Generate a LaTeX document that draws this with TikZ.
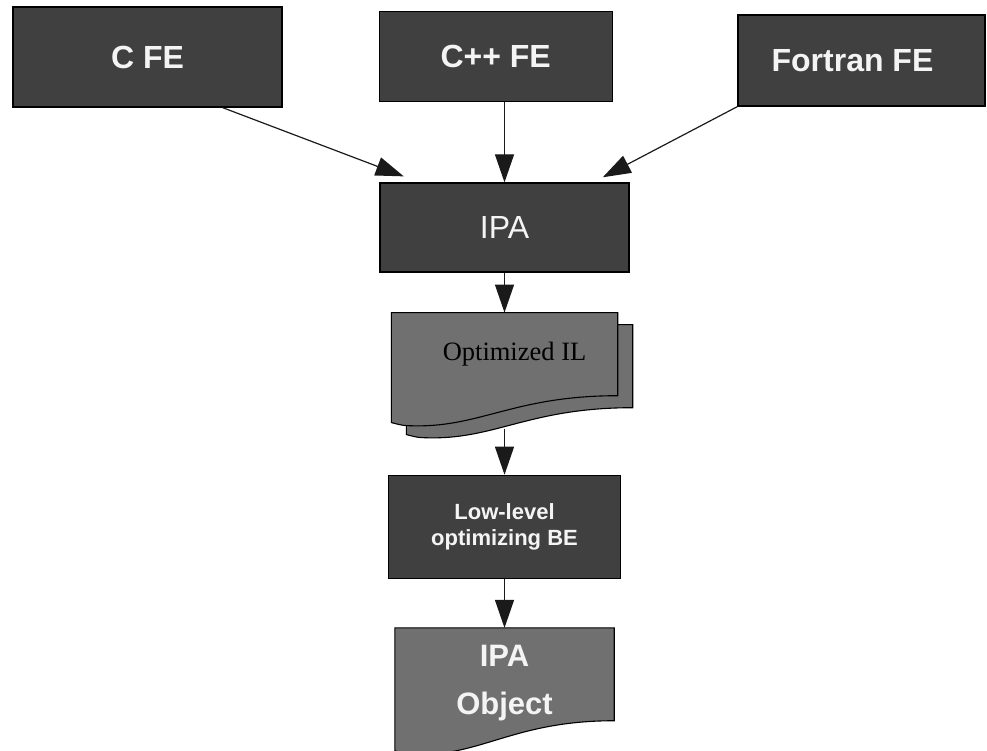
\documentclass[tikz,border=0pt]{standalone}
\usepackage{fontspec}
\setmainfont{Liberation Sans}
\newfontfamily\ilserif{Liberation Serif}
\usetikzlibrary{arrows.meta, positioning, calc, backgrounds}
\definecolor{feDark}{HTML}{404040}
\definecolor{docGray}{HTML}{707070}
\definecolor{arrGray}{HTML}{1A1A1A}
\definecolor{txtLight}{HTML}{F4F4F4}

% wavy document sheet drawn around a (borderless) node, moved by (#2,#3)
\newcommand{\docsheet}[3]{%
  \path[sheet] let \p1=($(#1.north west)+(#2,#3)$), \p2=($(#1.south east)+(#2,#3)$),
      \n1={\x2-\x1}, \n2={\y1-\y2} in
    (\x1,\y1) -- (\x2,\y1) -- (\x2,\y2)
    .. controls (\x1+0.55*\n1,\y2) and (\x1+0.40*\n1,\y2-0.37*\n2)
    .. (\x1+0.11*\n1,\y2-0.363*\n2)
    .. controls (\x1+0.05*\n1,\y2-0.36*\n2) .. (\x1,\y2-0.323*\n2) -- cycle;}

\begin{document}
\begin{tikzpicture}[
      x=1pt, y=-1pt,
      fe/.style={draw=black, line width=1.2pt, fill=feDark, text=txtLight,
                 font=\bfseries\fontsize{32}{38}\selectfont, inner sep=0pt},
      stage/.style={draw=black, line width=1.2pt, fill=feDark, text=txtLight,
                    align=center, inner sep=0pt},
      doc/.style={draw=none, align=center, inner sep=0pt},
      sheet/.style={draw=black, line width=1.1pt, fill=docGray},
      arr/.style={-{Triangle[length=28pt, width=19pt]}, line width=1.2pt, draw=arrGray}
    ]
    \useasboundingbox (0,0) rectangle (987,751);

    % --- front ends ---
    \node[fe, minimum width=269pt, minimum height=100pt] (cfe) at (147.5,57) {C FE};
    \node[fe, minimum width=233pt, minimum height=90pt] (cppfe) at (495.7,56.7) {C++ FE};
    \node[fe, minimum width=247pt, minimum height=91pt] (ffe) at (861.5,60.5) {\hspace*{-18pt}Fortran FE};

    % --- main column ---
    \node[stage, minimum width=249pt, minimum height=89pt,
          font=\fontsize{32}{38}\selectfont] (ipa) at (504.5,227.5) {IPA};
    \node[doc, below=40pt of ipa, minimum width=226pt, minimum height=82.7pt,
          font=\ilserif\fontsize{26.5}{30}\selectfont] (il) {\hspace*{20pt}Optimized IL\rule[-5pt]{0pt}{5pt}};
    \node[stage, below=79pt of il, minimum width=232pt, minimum height=103pt,
          font=\bfseries\fontsize{22}{26}\selectfont] (be) {Low-level\\optimizing BE};
    \node[doc, below=49pt of be, minimum width=219pt, minimum height=90.7pt, text=txtLight,
          font=\bfseries\fontsize{31}{48}\selectfont] (obj) {\rule{0pt}{38pt}IPA\\Object};

    % document sheets go underneath the text
    \begin{scope}[on background layer]
      \docsheet{il}{15}{12}
      \docsheet{il}{0}{0}
      \docsheet{obj}{0}{0}
    \end{scope}

    \draw[arr, shorten >=17pt] (cfe.-34) -- (ipa.152);
    \draw[arr] (cppfe.south -| ipa.north) -- (ipa.north);
    \draw[arr, shorten >=11pt] (ffe.south west) -- (ipa.27);
    \draw[arr] (ipa) -- (il);
    \draw[arr, shorten <=33pt] (il) -- (be);
    \draw[arr] (be) -- (obj);
  \end{tikzpicture}
\end{document}
